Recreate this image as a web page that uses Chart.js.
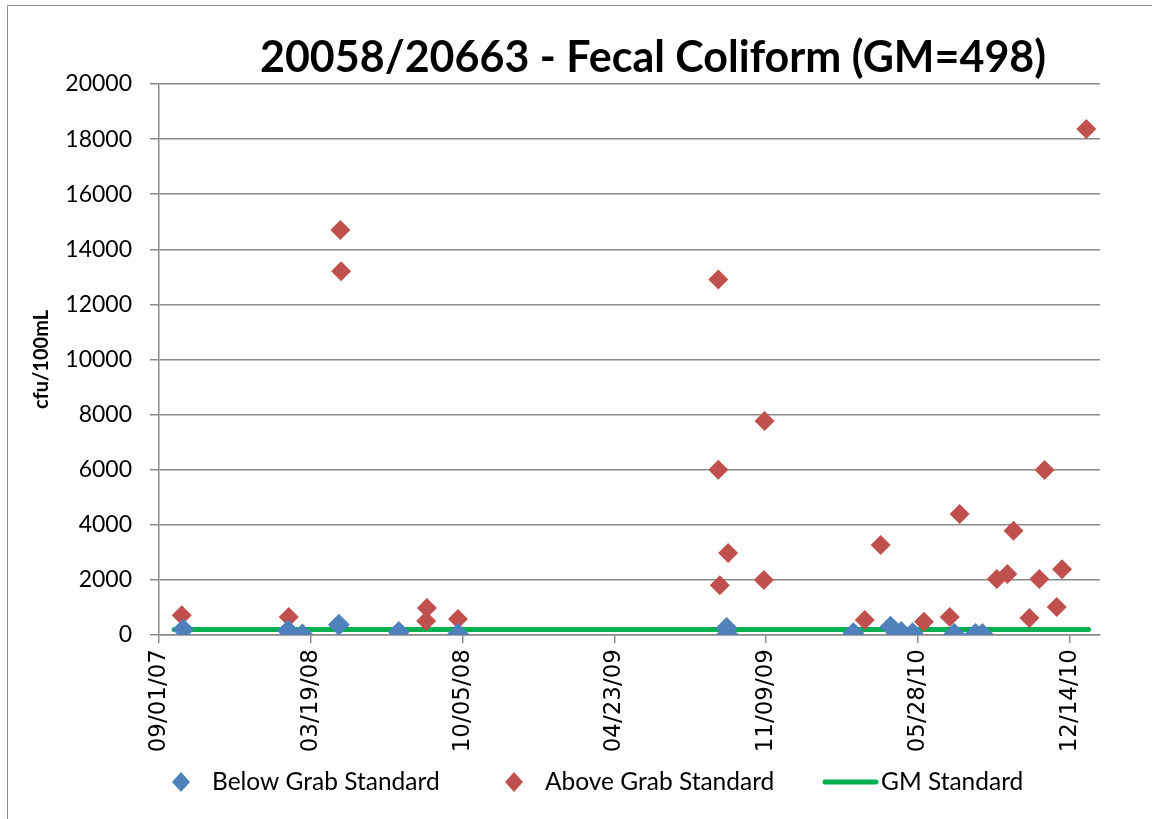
<!DOCTYPE html>
<html>
<head>
<meta charset="utf-8">
<script src="https://cdn.jsdelivr.net/npm/chart.js@4.4.0/dist/chart.umd.min.js"></script>
<style>
  html, body { margin: 0; padding: 0; background: #fff; overflow: hidden; }
  #marco { position: absolute; left: 7px; top: 5px; width: 1300px; height: 1000px; border: 1px solid #8c8c8c; }
  #caja { position: absolute; left: 0; top: 0; width: 1152px; height: 819px; }
</style>
</head>
<body>
<div id="marco"></div>
<div id="caja"><canvas id="grafico" width="1152" height="819"></canvas></div>
<script>
// datos
const titulo = "20058/20663 - Fecal Coliform (GM=498)"
const fechaInicio = "2007-09-01"
const diasMax = 1240
const ticksFechas = ["2007-09-01", "2008-03-19", "2008-10-05", "2009-04-23", "2009-11-09", "2010-05-28", "2010-12-14"]
const ticksValores = [0, 2000, 4000, 6000, 8000, 10000, 12000, 14000, 16000, 18000, 20000]

const fechasBajo = ["2007-10-03", "2008-02-18", "2008-03-08", "2008-04-25", "2008-07-13", "2008-09-29",
  "2009-09-18", "2009-09-19", "2010-03-04", "2010-04-22", "2010-05-06", "2010-05-21",
  "2010-07-15", "2010-08-12", "2010-08-21"]
const valoresBajo = [200, 150, 20, 370, 110, 40, 250, 30, 60, 300, 110, 60, 40, 40, 40]

const fechasAlto = ["2007-10-01", "2008-02-19", "2008-04-27", "2008-04-28", "2008-08-18", "2008-08-19",
  "2008-09-29", "2009-09-07", "2009-09-07", "2009-09-09", "2009-09-20", "2009-11-06", "2009-11-07",
  "2010-03-19", "2010-04-09", "2010-06-05", "2010-07-09", "2010-07-22", "2010-09-09", "2010-09-23",
  "2010-10-01", "2010-10-22", "2010-11-04", "2010-11-11", "2010-11-27", "2010-12-04", "2011-01-05"]
const valoresAlto = [720, 650, 14700, 13200, 510, 980, 580, 12900, 6000, 1810, 2980, 2000, 7770,
  540, 3270, 480, 650, 4390, 2030, 2210, 3780, 620, 2030, 5990, 1020, 2390, 18370]

const fechasGM = ["2007-09-21", "2011-01-08"]
const valoresGM = [200, 200]

const azul = "#4F81BD"
const rojo = "#C0504D"
const verde = "#00B050"
const gris = "#8a8a8a"

const DIA = 86400000
const base = Date.parse(fechaInicio)
const aDias = (f) => (Date.parse(f) - base) / DIA
const puntos = (fechas, valores) => fechas.map((f, i) => ({ x: aDias(f), y: valores[i] }))

const dosDig = (n) => String(n).padStart(2, "0")
function formatoFecha(dias) {
  const d = new Date(base + dias * DIA)
  return `${dosDig(d.getUTCMonth() + 1)}/${dosDig(d.getUTCDate())}/${dosDig(d.getUTCFullYear() % 100)}`
}

// titulo dibujado a mano para centrarlo como en el original
const tituloPlugin = {
  id: "titulo",
  afterDraw(chart) {
    const { ctx } = chart
    ctx.save()
    ctx.font = "bold 43px Lato"
    ctx.fillStyle = "#000"
    ctx.textAlign = "center"
    ctx.textBaseline = "middle"
    ctx.fillText(titulo, 653, 58)
    ctx.restore()
  }
}

// leyenda abajo, estilo Excel
const leyendaPlugin = {
  id: "leyenda",
  afterDraw(chart) {
    const { ctx } = chart
    const y = 782
    const ds = chart.data.datasets
    ctx.save()
    ctx.font = "24.5px Lato"
    ctx.textBaseline = "middle"

    const rombo = (cx, color) => {
      ctx.beginPath()
      ctx.moveTo(cx, y - 10)
      ctx.lineTo(cx + 9, y)
      ctx.lineTo(cx, y + 10)
      ctx.lineTo(cx - 9, y)
      ctx.closePath()
      ctx.fillStyle = color
      ctx.fill()
    }
    rombo(181, azul)
    ctx.fillStyle = "#000"
    ctx.fillText(ds[0].label, 212, y)
    rombo(514, rojo)
    ctx.fillStyle = "#000"
    ctx.fillText(ds[1].label, 545, y)

    ctx.strokeStyle = verde
    ctx.lineWidth = 5
    ctx.lineCap = "round"
    ctx.beginPath()
    ctx.moveTo(825, y)
    ctx.lineTo(876, y)
    ctx.stroke()
    ctx.fillText(ds[2].label, 881, y)
    ctx.restore()
  }
}

const config = {
  type: "scatter",
  data: {
    datasets: [
      {
        label: "Below Grab Standard",
        data: puntos(fechasBajo, valoresBajo),
        pointStyle: "rectRot",
        pointRadius: 11,
        pointHoverRadius: 11,
        backgroundColor: azul,
        borderColor: azul,
        borderWidth: 0
      },
      {
        label: "Above Grab Standard",
        data: puntos(fechasAlto, valoresAlto),
        pointStyle: "rectRot",
        pointRadius: 10,
        pointHoverRadius: 10,
        backgroundColor: rojo,
        borderColor: rojo,
        borderWidth: 0
      },
      {
        label: "GM Standard",
        data: puntos(fechasGM, valoresGM),
        showLine: true,
        pointRadius: 0,
        borderColor: verde,
        backgroundColor: verde,
        borderWidth: 5,
        borderCapStyle: "round"
      }
    ]
  },
  options: {
    responsive: false,
    animation: false,
    devicePixelRatio: 1,
    layout: { padding: { top: 84, left: 0, right: 52, bottom: 64 } },
    plugins: {
      legend: { display: false },
      tooltip: { enabled: false }
    },
    scales: {
      x: {
        type: "linear",
        min: 0,
        max: diasMax,
        afterBuildTicks: (escala) => {
          escala.ticks = ticksFechas.map(f => ({ value: aDias(f) }))
        },
        afterFit: (escala) => { escala.height = 120 },
        ticks: {
          autoSkip: false,
          minRotation: 90,
          maxRotation: 90,
          padding: 6,
          color: "#000",
          font: { family: "DejaVu Sans", size: 23 },
          callback: (v) => formatoFecha(v)
        },
        grid: {
          drawOnChartArea: false,
          drawTicks: true,
          tickLength: 8,
          color: gris,
          lineWidth: 1.5
        },
        border: { color: gris, width: 1.5 }
      },
      y: {
        min: 0,
        max: 20000,
        afterBuildTicks: (escala) => {
          escala.ticks = ticksValores.map(v => ({ value: v }))
        },
        afterFit: (escala) => { escala.width = 159 },
        ticks: {
          padding: 18,
          color: "#000",
          font: { family: "Lato", size: 23 },
          callback: (v) => String(v)
        },
        grid: {
          color: gris,
          lineWidth: 1.5,
          tickLength: 9
        },
        border: { color: gris, width: 1.5 },
        title: {
          display: true,
          text: "cfu/100mL",
          color: "#000",
          font: { family: "Lato", size: 20, weight: "bold" },
          padding: { top: 30, bottom: 0 }
        }
      }
    }
  },
  plugins: [tituloPlugin, leyendaPlugin]
}

const canva = document.getElementById("grafico").getContext("2d")
window.miGrafico = new Chart(canva, config)
</script>
</body>
</html>
